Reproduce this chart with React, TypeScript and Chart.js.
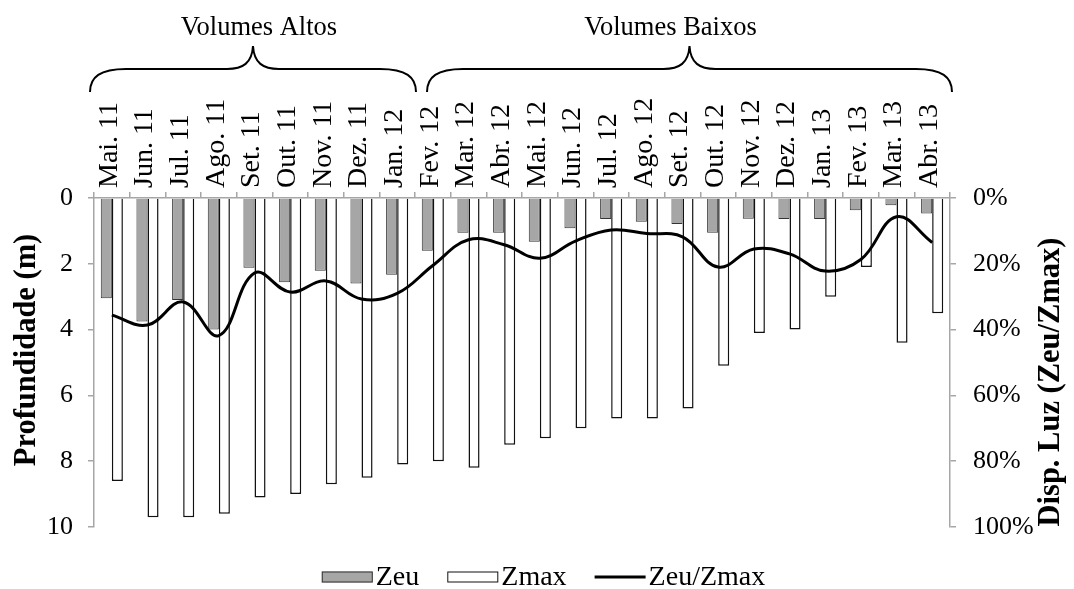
import React, { useEffect, useRef } from 'react';
import { Chart, registerables } from 'chart.js';

Chart.register(...registerables);

const months = [
  'Mai. 11', 'Jun. 11', 'Jul. 11', 'Ago. 11', 'Set. 11', 'Out. 11', 'Nov. 11', 'Dez. 11', 'Jan. 12',
  'Fev. 12', 'Mar. 12', 'Abr. 12', 'Mai. 12', 'Jun. 12', 'Jul. 12', 'Ago. 12', 'Set. 12', 'Out. 12',
  'Nov. 12', 'Dez. 12', 'Jan. 13', 'Fev. 13', 'Mar. 13', 'Abr. 13',
];

// Zeu (m)
const zeu = [3.05, 3.75, 3.1, 4.0, 2.12, 2.56, 2.21, 2.6, 2.33, 1.6, 1.06, 1.06, 1.33, 0.92, 0.64, 0.72, 0.79, 1.06, 0.63, 0.64, 0.64, 0.37, 0.22, 0.47];
// Zmax (m)
const zmax = [8.6, 9.7, 9.7, 9.6, 9.1, 9.0, 8.7, 8.5, 8.1, 8.0, 8.2, 7.5, 7.3, 7.0, 6.7, 6.7, 6.4, 5.1, 4.1, 4.0, 3.0, 2.1, 4.4, 3.5];
// Zeu/Zmax (%)
const ratio = [35.6, 38.6, 31.6, 41.8, 22.8, 28.6, 25.2, 30.7, 29, 20.5, 12.7, 14.2, 18.3, 13.1, 9.7, 10.8, 11.8, 21, 15.5, 17, 22.2, 18.7, 5.7, 13.5];

// groups of categories (first index, last index)
const groupLabels = ['Volumes Altos', 'Volumes Baixos'];
const groupFrom = [0, 9];
const groupTo = [8, 23];

const leftTitle = 'Profundidade (m)';
const rightTitle = 'Disp. Luz (Zeu/Zmax)';
const legendLabels = ['Zeu', 'Zmax', 'Zeu/Zmax'];

const FONT = '"Liberation Serif", "Times New Roman", serif';
const AXIS_COLOR = '#a6a6a6';
const ZEU_FILL = '#a6a6a6';

// styling of brace annotations
const braceStyle = [
  { padL: -4, padR: 1, textDx: 6 },
  { padL: 12, padR: 2, textDx: -19 },
];

function drawBrace(ctx: CanvasRenderingContext2D, xa: number, xb: number, yEnd: number, yMid: number, yTip: number) {
  const xm = (xa + xb) / 2;
  const r = 36;
  const t = 26;
  ctx.beginPath();
  ctx.moveTo(xa, yEnd);
  ctx.bezierCurveTo(xa, yMid + 8, xa + 10, yMid, xa + r, yMid);
  ctx.lineTo(xm - t, yMid);
  ctx.bezierCurveTo(xm - 10, yMid, xm - 1, yMid - 6, xm, yTip);
  ctx.bezierCurveTo(xm + 1, yMid - 6, xm + 10, yMid, xm + t, yMid);
  ctx.lineTo(xb - r, yMid);
  ctx.bezierCurveTo(xb - 10, yMid, xb, yMid + 8, xb, yEnd);
  ctx.stroke();
}

const overlayPlugin = {
  id: 'overlay',
  afterDraw(chart: any) {
    const ctx: CanvasRenderingContext2D = chart.ctx;
    const xs = chart.scales.x;
    const half = (xs.getPixelForValue(1) - xs.getPixelForValue(0)) / 2;
    ctx.save();

    // braces and group labels
    ctx.strokeStyle = '#000';
    ctx.lineWidth = 2;
    ctx.fillStyle = '#000';
    ctx.font = `26.5px ${FONT}`;
    ctx.textAlign = 'center';
    ctx.textBaseline = 'alphabetic';
    groupLabels.forEach((label, i) => {
      const st = braceStyle[i];
      const xa = xs.getPixelForValue(groupFrom[i]) - half + st.padL;
      const xb = xs.getPixelForValue(groupTo[i]) + half + st.padR;
      drawBrace(ctx, xa, xb, 92, 69, 46);
      ctx.fillText(label, (xa + xb) / 2 + st.textDx, 35);
    });

    // axis titles
    ctx.font = `bold 30.5px ${FONT}`;
    ctx.textBaseline = 'middle';
    ctx.save();
    ctx.translate(27, 350);
    ctx.rotate(-Math.PI / 2);
    ctx.fillText(leftTitle, 0, 0);
    ctx.restore();
    ctx.save();
    ctx.translate(1051, 382);
    ctx.rotate(-Math.PI / 2);
    ctx.fillText(rightTitle, 0, 0);
    ctx.restore();

    // legend
    ctx.font = `28px ${FONT}`;
    ctx.textAlign = 'left';
    ctx.textBaseline = 'middle';
    const boxW = 51;
    const boxH = 11;
    const gapText = 3;
    const gapItem = 28;
    const widths = legendLabels.map((l) => ctx.measureText(l).width);
    const total = widths.reduce((a, w) => a + boxW + gapText + w, 0) + gapItem * (legendLabels.length - 1);
    let lx = 543.5 - total / 2;
    const ly = 577;
    legendLabels.forEach((l, i) => {
      if (i === 0) {
        ctx.fillStyle = ZEU_FILL;
        ctx.fillRect(lx, ly - boxH / 2, boxW, boxH);
        ctx.strokeStyle = '#333';
        ctx.lineWidth = 1;
        ctx.strokeRect(lx + 0.5, ly - boxH / 2 + 0.5, boxW - 1, boxH - 1);
      } else if (i === 1) {
        ctx.fillStyle = '#fff';
        ctx.fillRect(lx, ly - boxH / 2, boxW, boxH);
        ctx.strokeStyle = '#111';
        ctx.lineWidth = 1;
        ctx.strokeRect(lx + 0.5, ly - boxH / 2 + 0.5, boxW - 1, boxH - 1);
      } else {
        ctx.strokeStyle = '#000';
        ctx.lineWidth = 3;
        ctx.beginPath();
        ctx.moveTo(lx, ly);
        ctx.lineTo(lx + boxW, ly);
        ctx.stroke();
      }
      ctx.fillStyle = '#000';
      ctx.fillText(l, lx + boxW + gapText, ly + 1);
      lx += boxW + gapText + widths[i] + gapItem;
    });

    ctx.restore();
  },
};

export default function App() {
  const canvasRef = useRef<HTMLCanvasElement | null>(null);

  useEffect(() => {
    if (!canvasRef.current) return;
    const chart = new Chart(canvasRef.current, {
      type: 'bar',
      data: {
        labels: months,
        datasets: [
          {
            type: 'bar',
            label: 'Zeu',
            data: zeu,
            yAxisID: 'y',
            backgroundColor: ZEU_FILL,
            borderColor: '#333',
            borderWidth: 1,
            order: 1,
          },
          {
            type: 'bar',
            label: 'Zmax',
            data: zmax,
            yAxisID: 'y',
            backgroundColor: '#ffffff',
            borderColor: '#111',
            borderWidth: 1.5,
            order: 1,
          },
          {
            type: 'line',
            label: 'Zeu/Zmax',
            data: ratio,
            yAxisID: 'y2',
            borderColor: '#000',
            borderWidth: 3,
            pointRadius: 0,
            fill: false,
            tension: 0.4,
            order: 0,
          } as any,
        ],
      },
      options: {
        animation: false,
        responsive: true,
        maintainAspectRatio: false,
        layout: { padding: { top: 0, bottom: 62, left: 0, right: 0 } },
        datasets: {
          bar: { categoryPercentage: 0.62, barPercentage: 1.0 },
        },
        plugins: {
          legend: { display: false },
          tooltip: { enabled: false },
        },
        scales: {
          x: {
            position: 'top',
            offset: true,
            afterFit: (s: any) => { s.height = 198; },
            grid: { drawOnChartArea: false, drawTicks: true, tickLength: 6, color: AXIS_COLOR, lineWidth: 1.5, offset: true },
            border: { display: true, color: AXIS_COLOR, width: 1.5 },
            ticks: {
              autoSkip: false,
              maxRotation: 90,
              minRotation: 90,
              padding: 4,
              labelOffset: 31,
              color: '#000',
              font: { family: FONT, size: 28 },
            },
          },
          y: {
            position: 'left',
            reverse: true,
            min: 0,
            max: 10,
            afterFit: (s: any) => { s.width = 94; },
            grid: { drawOnChartArea: false, drawTicks: true, tickLength: 6, color: AXIS_COLOR, lineWidth: 1.5 },
            border: { display: true, color: AXIS_COLOR, width: 1.5 },
            ticks: {
              stepSize: 1,
              padding: 15,
              color: '#000',
              font: { family: FONT, size: 26 },
              callback: (v: any) => (Math.round(v) % 2 === 0 ? String(v) : ''),
            },
          },
          y2: {
            position: 'right',
            reverse: true,
            min: 0,
            max: 100,
            afterFit: (s: any) => { s.width = 124; },
            grid: { drawOnChartArea: false, drawTicks: true, tickLength: 6, color: AXIS_COLOR, lineWidth: 1.5 },
            border: { display: true, color: AXIS_COLOR, width: 1.5 },
            ticks: {
              stepSize: 10,
              padding: 17,
              color: '#000',
              font: { family: FONT, size: 26 },
              callback: (v: any) => (Math.round(v) % 20 === 0 ? `${v}%` : ''),
            },
          },
        },
      } as any,
      plugins: [overlayPlugin],
    });
    return () => chart.destroy();
  }, []);

  return (
    <div style={{ position: 'fixed', left: 0, top: 0, width: 1074, height: 589, background: '#fff' }}>
      <canvas ref={canvasRef} style={{ display: 'block' }} />
    </div>
  );
}
